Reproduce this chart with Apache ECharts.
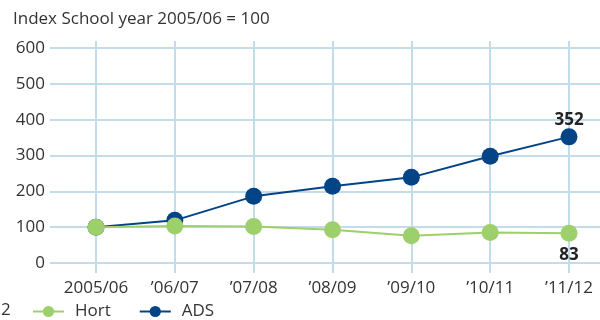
<!DOCTYPE html>
<html>
<head>
<meta charset="utf-8">
<script src="https://cdn.jsdelivr.net/npm/echarts@6/dist/echarts.min.js"></script>
<style>
  html, body { margin: 0; padding: 0; background: #fff; }
  #chart { width: 600px; height: 320px; }
</style>
</head>
<body>
<div id="chart"></div>
<script>
// School years and index values (2005/06 = 100)
const categories = ['2005/06', '\u201906/07', '\u201907/08', '\u201908/09', '\u201909/10', '\u201910/11', '\u201911/12'];
const hortValues = [100, 103, 102, 93, 76, 85, 83];
const adsValues = [100, 119, 186, 214, 239, 298, 352];
const yTicks = [0, 100, 200, 300, 400, 500, 600];

const FONT = 'Open Sans';
const FS = 17;
const GRID_COLOR = '#c2dcea';
const HORT_COLOR = '#9dcf6a';
const ADS_COLOR = '#034487';

const toPairs = vals => vals.map((v, i) => [i, v]);
const last = categories.length - 1;

const chart = echarts.init(document.getElementById('chart'), null, { renderer: 'canvas' });

chart.setOption({
  animation: false,
  textStyle: { fontFamily: FONT },
  title: {
    text: 'Index School year 2005/06 = 100',
    left: 13, top: 11, padding: 0,
    textStyle: { fontFamily: FONT, fontSize: FS, fontWeight: 'normal', color: '#333' }
  },
  legend: {
    data: ['Hort', 'ADS'],
    left: 32, top: 303, padding: 0,
    itemWidth: 31, itemHeight: 14, itemGap: 28,
    textStyle: { fontFamily: FONT, fontSize: FS, color: '#333', padding: [0, 0, 0, 6] }
  },
  graphic: [{
    type: 'text', left: 1, top: 302,
    style: { text: '2', fontFamily: FONT, fontSize: FS, fill: '#333' }
  }],
  grid: [
    // data grid with horizontal rules
    { left: 50, right: 0, top: 48, bottom: 57 },
    // category grid carrying vertical rules and x labels
    { left: 96, right: 31, top: 41, bottom: 47 }
  ],
  xAxis: [
    {
      type: 'value', gridIndex: 0,
      min: -0.5835, max: 6.393,
      show: false
    },
    {
      type: 'category', gridIndex: 1,
      data: categories, boundaryGap: false,
      axisLine: { show: false }, axisTick: { show: false },
      axisLabel: { interval: 0, margin: 7, fontFamily: FONT, fontSize: FS, color: '#333' },
      splitLine: { show: true, interval: 0, lineStyle: { color: GRID_COLOR, width: 2 } }
    }
  ],
  yAxis: [
    {
      type: 'value', gridIndex: 0,
      min: yTicks[0], max: yTicks[yTicks.length - 1], interval: 100,
      axisLine: { show: false }, axisTick: { show: false },
      axisLabel: { margin: 5, fontFamily: FONT, fontSize: FS, color: '#333' },
      splitLine: { show: true, lineStyle: { color: GRID_COLOR, width: 2 } }
    },
    {
      type: 'value', gridIndex: 1, show: false,
      splitLine: { show: false }
    }
  ],
  series: [
    {
      name: 'ADS', type: 'line', xAxisIndex: 0, yAxisIndex: 0,
      data: toPairs(adsValues),
      symbol: 'circle', symbolSize: 17,
      lineStyle: { color: ADS_COLOR, width: 2 },
      itemStyle: { color: ADS_COLOR },
      label: {
        show: true, position: 'top', distance: 0,
        formatter: p => (p.dataIndex === last ? String(p.value[1]) : ''),
        fontFamily: FONT, fontSize: FS, fontWeight: 'bold', color: '#222'
      },
      z: 3
    },
    {
      name: 'Hort', type: 'line', xAxisIndex: 0, yAxisIndex: 0,
      data: toPairs(hortValues),
      symbol: 'circle', symbolSize: 17,
      lineStyle: { color: HORT_COLOR, width: 2 },
      itemStyle: { color: HORT_COLOR },
      label: {
        show: true, position: 'bottom', distance: 5,
        formatter: p => (p.dataIndex === last ? String(p.value[1]) : ''),
        fontFamily: FONT, fontSize: FS, fontWeight: 'bold', color: '#222'
      },
      z: 4
    }
  ]
});
</script>
</body>
</html>
